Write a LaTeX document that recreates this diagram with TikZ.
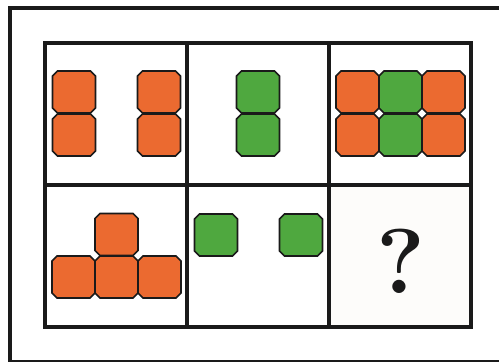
\documentclass[tikz,border=0pt]{standalone}
\definecolor{blkorange}{HTML}{EB6A30}
\definecolor{blkgreen}{HTML}{4FA83F}
\definecolor{linedark}{HTML}{1A1A1A}
\definecolor{cellbg}{HTML}{FDFCFA}
\newcommand\octblk[3]{%
  \draw[blkline, fill=#3, shift={(#1,#2)}]
    (-21.5,-16) -- (-21.5,16) -- (-16.5,21) -- (16.5,21) -- (21.5,16)
    -- (21.5,-16) -- (16.5,-21) -- (-16.5,-21) -- cycle;}
\begin{document}
\begin{tikzpicture}[x=1pt,y=-1pt,
  blkline/.style={draw=linedark, line width=1.6pt, line join=miter},
  frame/.style={draw=linedark, line width=4pt}]
\useasboundingbox (0,0) rectangle (499,362);
\clip (0,0) rectangle (499,362);
% outer frame
\draw[frame] (10,8) rectangle (520,362);
% cell 6 background
\fill[cellbg] (329,185) rectangle (471,327);
% grid
\draw[frame] (45,43) rectangle (471,327);
\draw[frame] (187,43) -- (187,327);
\draw[frame] (329,43) -- (329,327);
\draw[frame] (45,185) -- (471,185);
% cell 1
\octblk{74}{92}{blkorange}
\octblk{74}{135}{blkorange}
\octblk{159}{92}{blkorange}
\octblk{159}{135}{blkorange}
% cell 2
\octblk{258}{92}{blkgreen}
\octblk{258}{135}{blkgreen}
% cell 3
\octblk{357.5}{92}{blkorange}
\octblk{400.5}{92}{blkgreen}
\octblk{443.5}{92}{blkorange}
\octblk{357.5}{135}{blkorange}
\octblk{400.5}{135}{blkgreen}
\octblk{443.5}{135}{blkorange}
% cell 4
\octblk{116.5}{234.5}{blkorange}
\octblk{73.5}{277}{blkorange}
\octblk{116.5}{277}{blkorange}
\octblk{159.5}{277}{blkorange}
% cell 5
\octblk{216}{235}{blkgreen}
\octblk{301}{235}{blkgreen}
% question mark
\node[text=linedark, inner sep=0pt] (q) at (400.5,261) {\fontsize{92}{92}\selectfont\bfseries ?};
\end{tikzpicture}
\end{document}
